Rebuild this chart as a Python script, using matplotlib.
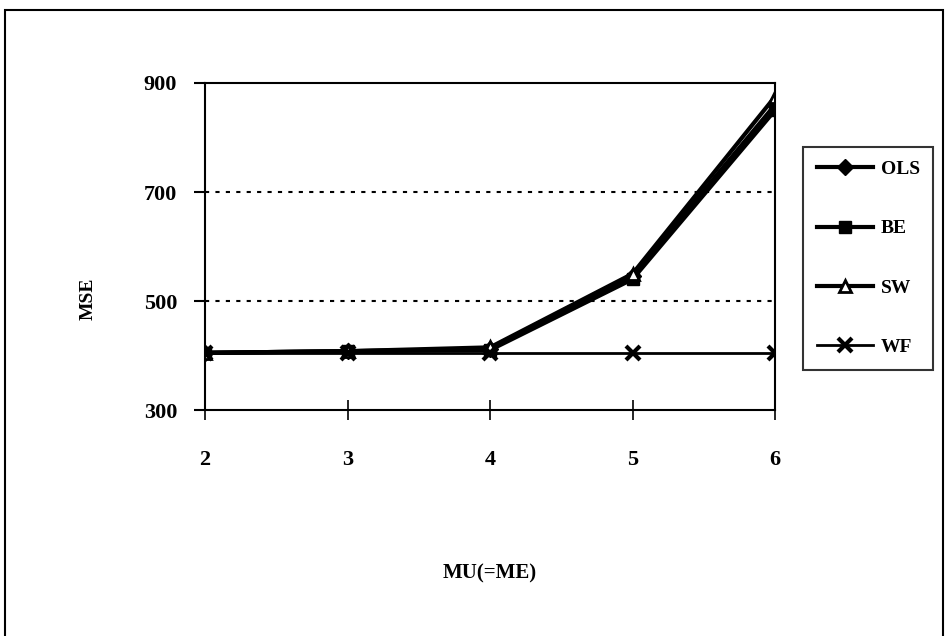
import matplotlib
matplotlib.use('Agg')
import matplotlib.pyplot as plt
from matplotlib.patches import Rectangle

plt.rcParams['font.family'] = ['Liberation Serif', 'DejaVu Serif']
plt.rcParams['font.weight'] = 'bold'

# MSE by MU(=ME)
mu = [2, 3, 4, 5, 6]
ols = [405, 408, 412, 545, 860]
be = [405, 408, 410, 540, 850]
sw = [405, 408, 415, 550, 875]
wf = [405, 405, 405, 405, 405]
yticks = [300, 500, 700, 900]

fig = plt.figure(figsize=(9.49, 6.36), dpi=100)
ax = fig.add_axes([0.216, 0.3553, 0.6007, 0.5142])

lw = 3
ax.plot(mu, ols, '-', color='black', lw=lw, marker='D', ms=8, mfc='black', label='OLS')
ax.plot(mu, be, '-', color='black', lw=lw, marker='s', ms=8, mfc='black', label='BE')
ax.plot(mu, sw, '-', color='black', lw=lw, marker='^', ms=9, mfc='white', mew=2, label='SW')
ax.plot(mu, wf, '-', color='black', lw=2, marker='x', ms=10, mew=3, label='WF')

ax.set_xlim(2, 6)
ax.set_ylim(300, 900)
ax.set_yticks(yticks)
ax.set_xticks(mu)
for v in yticks[1:-1]:
    ax.axhline(v, color='black', lw=1.5, ls=(0, (2, 3)), zorder=1)

for s in ax.spines.values():
    s.set_linewidth(1.5)
ax.tick_params(axis='x', direction='inout', length=14, width=1.2, pad=22, labelsize=16)
ax.tick_params(axis='y', direction='out', length=8, width=1.5, pad=12, labelsize=16)

ax.set_xlabel('MU(=ME)', fontsize=15, fontweight='bold')
ax.xaxis.set_label_coords(0.5, -0.47)
ax.set_ylabel('MSE', fontsize=14, fontweight='bold')
ax.yaxis.set_label_coords(-0.19, 0.34)

leg = ax.legend(loc='upper left', bbox_to_anchor=(1.049, 0.805), fontsize=14,
                frameon=True, fancybox=False, edgecolor='black', handlelength=2.9,
                labelspacing=2.15, borderpad=0.7, handletextpad=0.4, borderaxespad=0)
leg.get_frame().set_linewidth(1.5)

# outer chart border
fig.patches.append(Rectangle((5 / 949, -0.02), 938 / 949, 1.02 - 10 / 636,
                             transform=fig.transFigure, fill=False, lw=1.5, ec='black'))

fig.savefig('out.png', dpi=100)
